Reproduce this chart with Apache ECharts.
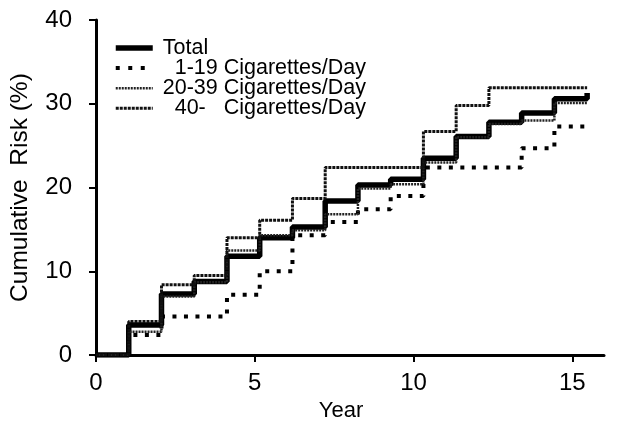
<!DOCTYPE html>
<html>
<head>
<meta charset="utf-8">
<script src="https://cdn.jsdelivr.net/npm/echarts@6/dist/echarts.min.js"></script>
<style>
html,body{margin:0;padding:0;background:#fff;}
#chart{width:617px;height:427px;}
</style>
</head>
<body>
<div id="chart"></div>
<script>
// Years at which each step value starts (value holds until next year)
var years = [0,1,2,3,4,5,6,7,8,9,10,11,12,13,14,15];
var total    = [0, 3.6, 7.3, 8.8, 11.8, 14.0, 15.3, 18.4, 20.3, 21.0, 23.5, 26.1, 27.8, 28.9, 30.6, 31.3];
var cig1_19  = [0, 2.4, 4.6, 4.6, 7.2, 10.0, 14.3, 15.9, 17.4, 19.0, 22.4, 22.4, 22.4, 24.7, 27.3, 27.3];
var cig20_39 = [0, 2.8, 7.0, 8.7, 12.5, 14.3, 14.9, 16.8, 19.9, 20.4, 23.0, 26.0, 27.6, 28.0, 30.1, 30.1];
var cig40    = [0, 4.0, 8.4, 9.5, 14.0, 16.1, 18.7, 22.4, 22.4, 22.4, 26.7, 29.8, 31.9, 31.9, 31.9, 31.9];
var xTickLabels = [0, 5, 10, 15];
var yTickLabels = [0, 10, 20, 30, 40];
var seriesNames = ['Total', '1-19 Cigarettes/Day', '20-39 Cigarettes/Day', '40- Cigarettes/Day'];
var legendTexts = ['Total', '  1-19 Cigarettes/Day', '20-39 Cigarettes/Day', '  40-   Cigarettes/Day'];

function pairs(vals){ return years.map(function(y,i){ return [y, vals[i]]; }); }

var styles = [
  {color: '#000', width: 5.5, type: 'solid'},
  {color: '#000', width: 4, type: [4, 7.5]},
  {color: '#222', width: 2.5, type: [2, 1]},
  {color: '#111', width: 3, type: [3, 1]}
];
var legendStyles = [
  {color: '#000', width: 5.5, type: 'solid'},
  {color: '#000', width: 4, type: [4, 8.5]},
  {color: '#222', width: 2.5, type: [2, 1]},
  {color: '#111', width: 3, type: [3, 1]}
];

var chart = echarts.init(document.getElementById('chart'), null, {renderer:'canvas'});
var font = 'Liberation Sans, Arial, Helvetica, sans-serif';
var option = {
  backgroundColor: '#fff',
  animation: false,
  grid: {left: 92, top: 20, right: 13, bottom: 67, containLabel: false},
  legend: {
    orient: 'vertical',
    left: 108, top: 32,
    itemWidth: 37, itemHeight: 14, itemGap: -1.9,
    itemStyle: {opacity: 0},
    textStyle: {fontFamily: font, fontSize: 21.5, lineHeight: 20, color: '#000', padding: [0, 0, 0, 5]},
    formatter: function(name){ return legendTexts[seriesNames.indexOf(name)]; },
    data: seriesNames.map(function(n, i){ return {name: n, lineStyle: legendStyles[i]}; })
  },
  xAxis: [{
    type: 'value', min: 0, max: 16,
    name: 'Year', nameLocation: 'middle', nameGap: 35,
    nameTextStyle: {fontFamily: font, fontSize: 22, color: '#000', padding: [0, 18, 0, 0]},
    axisLine: {lineStyle: {color: '#000', width: 3}},
    axisTick: {show: true, length: 7, lineStyle: {color: '#000', width: 2}, customValues: xTickLabels},
    axisLabel: {fontFamily: font, fontSize: 24, color: '#000', margin: 16, customValues: xTickLabels},
    splitLine: {show: false}
  }, {
    // plotting scale of the curves (drawn slightly wider than the tick scale in the source figure)
    type: 'value', min: 0, max: 512/33, show: false, splitLine: {show: false}
  }],
  yAxis: {
    type: 'value', min: 0, max: 40, interval: 10,
    name: 'Cumulative  Risk (%)', nameLocation: 'middle', nameGap: 63,
    nameTextStyle: {fontFamily: font, fontSize: 24.5, color: '#000'},
    axisLine: {show: true, lineStyle: {color: '#000', width: 3}},
    axisTick: {show: true, length: 7, lineStyle: {color: '#000', width: 2}},
    axisLabel: {fontFamily: font, fontSize: 24, color: '#000', margin: 24},
    splitLine: {show: false}
  },
  series: [
    {name: seriesNames[0], type: 'line', step: 'end', xAxisIndex: 1, symbol: 'none', data: pairs(total),
     lineStyle: styles[0], itemStyle: {color: '#000'}, z: 2},
    {name: seriesNames[1], type: 'line', step: 'end', xAxisIndex: 1, symbol: 'none', data: pairs(cig1_19),
     lineStyle: styles[1], itemStyle: {color: '#000'}, z: 3},
    {name: seriesNames[2], type: 'line', step: 'end', xAxisIndex: 1, symbol: 'none', data: pairs(cig20_39),
     lineStyle: styles[2], itemStyle: {color: '#222'}, z: 4},
    {name: seriesNames[3], type: 'line', step: 'end', xAxisIndex: 1, symbol: 'none', data: pairs(cig40),
     lineStyle: styles[3], itemStyle: {color: '#111'}, z: 4}
  ]
};
chart.setOption(option);
</script>
</body>
</html>
